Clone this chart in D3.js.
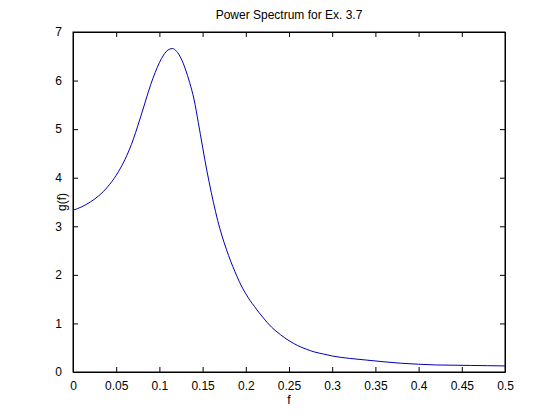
<!DOCTYPE html>
<html>
<head>
<meta charset="utf-8">
<script src="https://cdn.jsdelivr.net/npm/d3@7"></script>
<style>
  body { margin: 0; background: #fff; }
  text { font-family: "Liberation Sans", Arial, sans-serif; font-size: 12px; fill: #000; }
</style>
</head>
<body>
<script>
// values
var freq = [0, 0.01, 0.02, 0.03, 0.04, 0.05, 0.06, 0.07, 0.075, 0.08, 0.085, 0.09, 0.095, 0.10, 0.105,
            0.11, 0.115, 0.12, 0.125, 0.13, 0.135, 0.14, 0.145, 0.15, 0.155, 0.16, 0.165, 0.17,
            0.175, 0.18, 0.185, 0.19, 0.195, 0.20, 0.205, 0.21, 0.215, 0.22, 0.23, 0.24, 0.25,
            0.26, 0.27, 0.28, 0.29, 0.30, 0.32, 0.34, 0.36, 0.38, 0.40, 0.42, 0.44, 0.46, 0.48, 0.50];
var spec = [3.33, 3.40, 3.50, 3.63, 3.81, 4.05, 4.37, 4.80, 5.07, 5.35, 5.64, 5.92, 6.16, 6.37, 6.53,
            6.63, 6.66, 6.60, 6.46, 6.24, 5.96, 5.62, 5.14, 4.63, 4.14, 3.70, 3.30, 2.95,
            2.66, 2.40, 2.17, 1.96, 1.77, 1.61, 1.47, 1.35, 1.23, 1.12, 0.92, 0.77, 0.645,
            0.545, 0.47, 0.41, 0.37, 0.33, 0.28, 0.245, 0.21, 0.18, 0.16, 0.145, 0.14, 0.135, 0.13, 0.125];
var xTicks = [0, 0.05, 0.1, 0.15, 0.2, 0.25, 0.3, 0.35, 0.4, 0.45, 0.5];
var yTicks = [0, 1, 2, 3, 4, 5, 6, 7];

var width = 560, height = 420;
var padL = 73, padR = 505, padT = 32, padB = 372;

var svg = d3.select("body").append("svg")
    .attr("width", width)
    .attr("height", height);

var x = d3.scaleLinear().domain([0, 0.5]).range([padL, padR]);
var y = d3.scaleLinear().domain([0, 7]).range([padB, padT]);

var fmt = function(d) { return String(d); };

// bottom / top axes (ticks pointing inward)
svg.append("g")
    .attr("transform", "translate(0," + padB + ")")
    .call(d3.axisBottom(x).tickValues(xTicks).tickSizeInner(-5).tickSizeOuter(0).tickPadding(9).tickFormat(fmt));
svg.append("g")
    .attr("transform", "translate(0," + padT + ")")
    .call(d3.axisTop(x).tickValues(xTicks).tickSizeInner(-5).tickSizeOuter(0).tickFormat(""));
// left / right axes
svg.append("g")
    .attr("transform", "translate(" + padL + ",0)")
    .call(d3.axisLeft(y).tickValues(yTicks).tickSizeInner(-5).tickSizeOuter(0).tickPadding(11).tickFormat(fmt));
svg.append("g")
    .attr("transform", "translate(" + padR + ",0)")
    .call(d3.axisRight(y).tickValues(yTicks).tickSizeInner(-5).tickSizeOuter(0).tickFormat(""));

svg.selectAll(".domain").attr("stroke", "#000");
svg.selectAll(".tick line").attr("stroke", "#000");
svg.selectAll(".tick text").style("font-size", "12px").style("font-family", "Liberation Sans, Arial, sans-serif");

// box
svg.append("rect")
    .attr("x", padL).attr("y", padT)
    .attr("width", padR - padL).attr("height", padB - padT)
    .attr("fill", "none").attr("stroke", "#000");

// spectrum
var pts = freq.map(function(f, i) { return [f, spec[i]]; });
var line = d3.line()
    .x(function(d) { return x(d[0]); })
    .y(function(d) { return y(d[1]); })
    .curve(d3.curveMonotoneX);
svg.append("path")
    .datum(pts)
    .attr("d", line)
    .attr("fill", "none")
    .attr("stroke", "#0000b8")
    .attr("stroke-width", 1);

// labels
svg.append("text")
    .attr("x", (padL + padR) / 2).attr("y", 19)
    .attr("text-anchor", "middle")
    .text("Power Spectrum for Ex. 3.7");
svg.append("text")
    .attr("x", (padL + padR) / 2).attr("y", 404)
    .attr("text-anchor", "middle")
    .text("f");
svg.append("text")
    .attr("transform", "translate(66," + ((padT + padB) / 2) + ") rotate(-90)")
    .attr("text-anchor", "middle")
    .text("g(f)");
</script>
</body>
</html>
